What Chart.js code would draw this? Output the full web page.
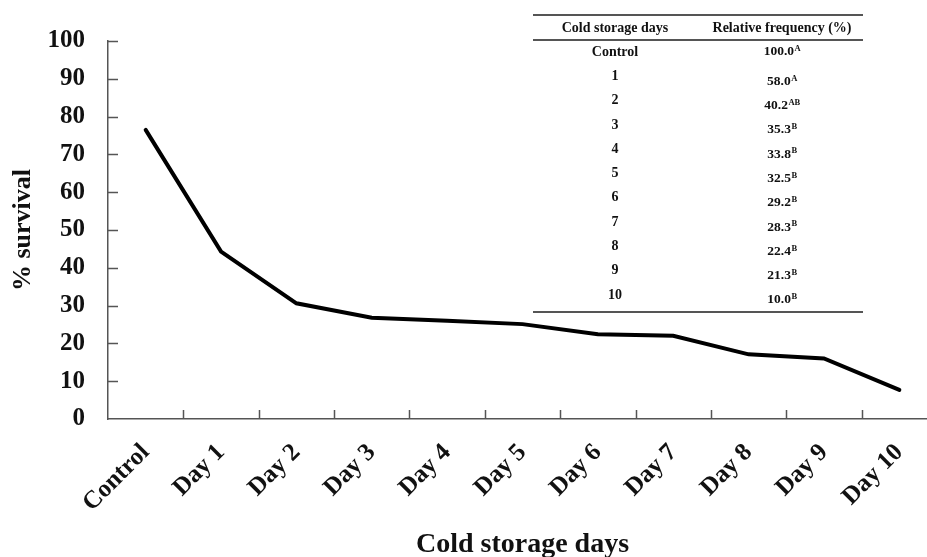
<!DOCTYPE html>
<html>
<head>
<meta charset="utf-8">
<script src="https://cdn.jsdelivr.net/npm/chart.js@4"></script>
<style>
    html, body { margin: 0; padding: 0; background: #fff; overflow: hidden; }
    #wrap { width: 945px; height: 557px; }
</style>
</head>
<body>
<div id="wrap"><canvas id="survivalChart"></canvas></div>
<script>
const categories = ['Control', 'Day 1', 'Day 2', 'Day 3', 'Day 4', 'Day 5', 'Day 6', 'Day 7', 'Day 8', 'Day 9', 'Day 10'];
const survival = [76.5, 44.3, 30.6, 26.8, 26.0, 25.1, 22.4, 22.0, 17.1, 16.0, 7.7];
const yTicks = [0, 10, 20, 30, 40, 50, 60, 70, 80, 90, 100];

// inset table
const tableHeader = ['Cold storage days', 'Relative frequency (%)'];
const tableDays = ['Control', '1', '2', '3', '4', '5', '6', '7', '8', '9', '10'];
const tableFreq = ['100.0', '58.0', '40.2', '35.3', '33.8', '32.5', '29.2', '28.3', '22.4', '21.3', '10.0'];
const tableLetters = ['A', 'A', 'AB', 'B', 'B', 'B', 'B', 'B', 'B', 'B', 'B'];

const SERIF = '"Liberation Serif", "DejaVu Serif", serif';
const AXIS_COLOR = '#555';

// inward tick marks on both axes
const tickMarks = {
    id: 'tickMarks',
    afterDraw(chart) {
        const { ctx, chartArea, scales } = chart;
        ctx.save();
        ctx.strokeStyle = AXIS_COLOR;
        ctx.lineWidth = 1.5;
        ctx.beginPath();
        yTicks.forEach(v => {
            if (v === 0) return;
            const y = Math.round(scales.y.getPixelForValue(v)) + 0.5;
            ctx.moveTo(chartArea.left, y);
            ctx.lineTo(chartArea.left + 10, y);
        });
        for (let i = 1; i < categories.length; i++) {
            const x = Math.round((scales.x.getPixelForValue(i - 1) + scales.x.getPixelForValue(i)) / 2) + 0.5;
            ctx.moveTo(x, chartArea.bottom);
            ctx.lineTo(x, chartArea.bottom - 9);
        }
        ctx.stroke();
        ctx.restore();
    }
};

const insetTable = {
    id: 'insetTable',
    afterDraw(chart) {
        const ctx = chart.ctx;
        const left = 533, right = 863;
        const col1 = 615, col2 = 782;
        ctx.save();
        ctx.strokeStyle = AXIS_COLOR;
        ctx.lineWidth = 2;
        ctx.beginPath();
        ctx.moveTo(left, 15); ctx.lineTo(right, 15);
        ctx.moveTo(left, 40); ctx.lineTo(right, 40);
        ctx.moveTo(left, 312); ctx.lineTo(right, 312);
        ctx.stroke();

        ctx.fillStyle = '#111';
        ctx.textBaseline = 'middle';
        ctx.textAlign = 'center';
        ctx.font = 'bold 14px ' + SERIF;
        ctx.fillText(tableHeader[0], col1, 28);
        ctx.fillText(tableHeader[1], col2, 28);

        tableDays.forEach((d, i) => {
            const yLabel = 52 + i * 24.3;
            const yVal = i === 0 ? yLabel : yLabel + 5;
            ctx.textAlign = 'center';
            ctx.font = 'bold 14px ' + SERIF;
            ctx.fillText(d, col1, yLabel);

            ctx.textAlign = 'left';
            ctx.font = 'bold 13.5px ' + SERIF;
            const mainW = ctx.measureText(tableFreq[i]).width;
            ctx.font = 'bold 8.5px ' + SERIF;
            const supW = ctx.measureText(tableLetters[i]).width;
            const x0 = col2 - (mainW + supW) / 2;
            ctx.font = 'bold 13.5px ' + SERIF;
            ctx.fillText(tableFreq[i], x0, yVal);
            ctx.font = 'bold 8.5px ' + SERIF;
            ctx.fillText(tableLetters[i], x0 + mainW + 0.5, yVal - 3);
        });
        ctx.restore();
    }
};

const ctx = document.getElementById('survivalChart').getContext('2d');
new Chart(ctx, {
    type: 'line',
    data: {
        labels: categories,
        datasets: [{
            data: survival,
            borderColor: '#000',
            borderWidth: 4,
            pointRadius: 0,
            tension: 0,
            borderCapStyle: 'round',
            fill: false
        }]
    },
    options: {
        responsive: true,
        maintainAspectRatio: false,
        animation: false,
        layout: { padding: { top: 41, right: 8, left: 0, bottom: 0 } },
        plugins: {
            legend: { display: false },
            tooltip: { enabled: false }
        },
        scales: {
            x: {
                offset: true,
                grid: { display: false, offset: true },
                border: { color: AXIS_COLOR, width: 1.5 },
                ticks: {
                    autoSkip: false,
                    minRotation: 45,
                    maxRotation: 45,
                    padding: 11,
                    color: '#111',
                    font: { family: SERIF, size: 25, weight: 'bold' }
                },
                title: {
                    display: true,
                    text: 'Cold storage days',
                    color: '#111',
                    padding: { top: 0, bottom: -2 },
                    font: { family: SERIF, size: 28, weight: 'bold', lineHeight: 1 }
                },
                afterFit(scale) { scale.height = 138; }
            },
            y: {
                min: 0,
                max: 100,
                grid: { display: false },
                border: { color: AXIS_COLOR, width: 1.5 },
                afterBuildTicks(scale) { scale.ticks = yTicks.map(v => ({ value: v })); },
                ticks: {
                    padding: 15,
                    color: '#111',
                    font: { family: SERIF, size: 25, weight: 'bold' }
                },
                title: {
                    display: true,
                    text: '% survival',
                    color: '#111',
                    padding: { top: 10, bottom: 0 },
                    font: { family: SERIF, size: 26, weight: 'bold', lineHeight: 1 }
                },
                afterFit(scale) { scale.width = 108; }
            }
        }
    },
    plugins: [tickMarks, insetTable]
});
</script>
</body>
</html>
